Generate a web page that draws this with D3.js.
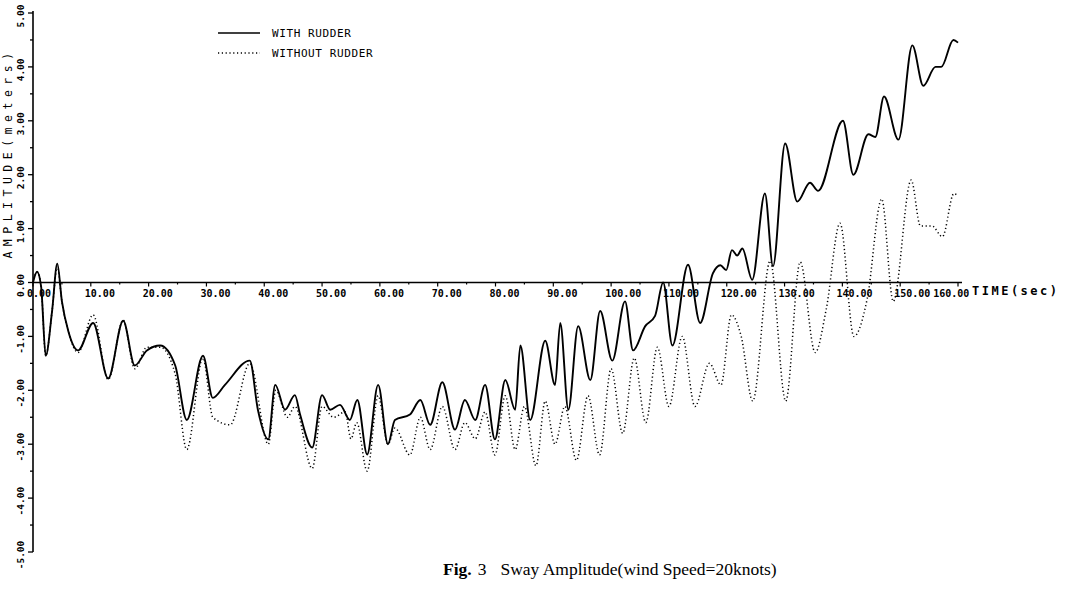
<!DOCTYPE html>
<html>
<head>
<meta charset="UTF-8">
<script src="https://d3js.org/d3.v7.min.js"></script>
<style>
  body { margin: 0; background: #fff; }
  svg { display: block; }
</style>
</head>
<body>
<div id="chart"></div>
<script>
// tick values
var xTicks = d3.range(0, 161, 10);
var yTicks = d3.range(-5, 6, 1);

// WITH RUDDER (solid)
var withTime = [0, 0.7, 1.4, 2.2, 3.3, 4.2, 5.0, 6.1, 7.8, 10.4, 13.0, 15.6, 17.6, 19.7, 22.0, 24.6, 26.6, 29.4, 31.1, 33.2,
  37.5, 38.9, 40.7, 41.9, 43.6, 45.3, 46.2, 48.3, 50.0, 51.4, 53.1, 54.8, 56.1, 57.8, 59.7, 61.4, 62.6, 65.2, 67.0, 68.7,
  70.8, 73.0, 74.7, 76.5, 78.2, 79.9, 81.7, 83.4, 84.3, 86.0, 88.6, 90.3, 91.2, 92.6, 94.3, 96.4, 98.1, 100.2, 102.4, 103.8,
  105.9, 107.6, 109.0, 110.6, 113.3, 115.4, 117.6, 118.9, 119.9, 120.9, 121.8, 122.7, 124.4, 126.6, 128.0, 130.1, 132.2, 134.4, 135.8, 140.1,
  141.9, 144.5, 145.7, 147.2, 149.7, 152.1, 154.0, 156.1, 157.1, 159.2, 160];
var withAmp = [0, 0.2, -0.07, -1.36, -0.53, 0.35, -0.35, -0.9, -1.26, -0.75, -1.78, -0.71, -1.54, -1.26, -1.17, -1.54, -2.55, -1.36, -2.14, -1.9,
  -1.45, -2.36, -2.91, -1.9, -2.36, -2.09, -2.45, -3.06, -2.09, -2.36, -2.27, -2.55, -2.18, -3.19, -1.9, -3.0, -2.55, -2.45, -2.18, -2.64,
  -1.85, -2.73, -2.18, -2.55, -1.9, -2.91, -1.81, -2.36, -1.17, -2.55, -1.08, -1.9, -0.75, -2.36, -0.81, -1.81, -0.53, -1.45, -0.35, -1.26,
  -0.81, -0.62, 0, -1.17, 0.33, -0.75, 0.17, 0.32, 0.23, 0.6, 0.5, 0.63, 0.05, 1.65, 0.3, 2.58, 1.5, 1.85, 1.7, 3.0,
  2.0, 2.75, 2.7, 3.45, 2.65, 4.4, 3.65, 4.0, 4.0, 4.5, 4.45];

// WITHOUT RUDDER (dotted)
var withoutTime = [0, 0.7, 1.4, 2.2, 3.3, 4.2, 5.0, 6.1, 7.8, 10.4, 13.0, 15.6, 17.6, 19.7, 22.0, 24.6, 26.6, 29.4, 31.1, 34.1,
  37.5, 40.7, 42.0, 44.0, 45.3, 48.3, 50.0, 52.0, 54.0, 55.0, 56.0, 57.8, 59.7, 61.4, 62.6, 65.2, 67.0, 68.7, 70.8, 73.0,
  74.7, 76.5, 78.2, 79.9, 81.7, 83.4, 85.0, 87.0, 88.6, 90.3, 92.0, 94.0, 96.0, 98.0, 100.0, 102.0, 104.0, 106.0, 108.0, 110.0,
  112.3, 114.5, 117.0, 119.0, 120.8, 122.5, 124.5, 127.5, 130.2, 132.7, 135.3, 137.2, 139.6, 142.0, 144.3, 146.8, 148.8, 151.9, 153.5, 155.5,
  157.3, 159.3, 160];
var withoutAmp = [0, 0.2, -0.07, -1.36, -0.53, 0.3, -0.35, -0.9, -1.3, -0.6, -1.8, -0.7, -1.6, -1.2, -1.2, -1.7, -3.1, -1.4, -2.5, -2.64,
  -1.5, -3.0, -2.0, -2.5, -2.3, -3.45, -2.3, -2.5, -2.4, -2.9, -2.6, -3.5, -2.1, -3.0, -2.7, -3.2, -2.5, -3.1, -2.3, -3.1,
  -2.6, -2.9, -2.4, -3.2, -2.1, -3.1, -2.3, -3.4, -2.2, -3.0, -2.3, -3.3, -2.1, -3.2, -1.6, -2.8, -1.4, -2.6, -1.2, -2.3,
  -1.0, -2.3, -1.5, -1.9, -0.6, -1.0, -2.2, 0.4, -2.2, 0.38, -1.3, -0.5, 1.1, -1.0, -0.3, 1.55, -0.35, 1.9, 1.05, 1.05,
  0.85, 1.65, 1.6];

var W = 1073, H = 603;

var svg = d3.select("#chart").append("svg")
  .attr("width", W)
  .attr("height", H);

var x = d3.scaleLinear().domain([0, 160]).range([33, 958]);
var y = d3.scaleLinear().domain([-5, 5]).range([552, 13]);

var axisFont = "'DejaVu Sans Mono', monospace";

// y axis
svg.append("line")
  .attr("x1", x(0)).attr("x2", x(0))
  .attr("y1", y(5) - 2).attr("y2", y(-5))
  .attr("stroke", "#000").attr("stroke-width", 1.6);

svg.selectAll(".ytick")
  .data(d3.range(-5, 5.01, 0.5))
  .enter().append("line")
  .attr("x1", x(0)).attr("x2", function (d) { return Number.isInteger(d) ? x(0) - 5 : x(0) - 3; })
  .attr("y1", function (d) { return y(d); }).attr("y2", function (d) { return y(d); })
  .attr("stroke", "#000").attr("stroke-width", 1.3);

svg.selectAll(".ylabel")
  .data(yTicks)
  .enter().append("text")
  .attr("transform", function (d) { return "translate(24," + (y(d) + 3) + ") rotate(-90)"; })
  .attr("text-anchor", "middle")
  .style("font-family", axisFont)
  .style("font-size", "9.5px")
  .style("font-weight", "bold")
  .text(function (d) { return d.toFixed(2); });

svg.append("text")
  .attr("transform", "translate(12,153) rotate(-90)")
  .attr("text-anchor", "middle")
  .style("font-family", axisFont)
  .style("font-size", "11.5px")
  .style("letter-spacing", "5.5px")
  .text("AMPLITUDE(meters)");

// x axis
svg.append("line")
  .attr("x1", x(0)).attr("x2", x(160) + 4)
  .attr("y1", y(0)).attr("y2", y(0))
  .attr("stroke", "#000").attr("stroke-width", 1.6);

svg.selectAll(".xtick")
  .data(d3.range(0, 160.1, 5))
  .enter().append("line")
  .attr("x1", function (d) { return x(d); }).attr("x2", function (d) { return x(d); })
  .attr("y1", y(0)).attr("y2", function (d) { return d % 10 === 0 ? y(0) + 4 : y(0) + 2; })
  .attr("stroke", "#000").attr("stroke-width", 1.2);

svg.selectAll(".xlabel")
  .data(xTicks)
  .enter().append("text")
  .attr("x", function (d) { return d === 160 ? x(150) + 33 : x(d) - 6; })
  .attr("y", y(0) + 14)
  .style("font-family", axisFont)
  .style("font-size", "10px")
  .style("font-weight", "bold")
  .text(function (d) { return d.toFixed(2); });

svg.append("text")
  .attr("x", 972).attr("y", y(0) + 12)
  .style("font-family", axisFont)
  .style("font-size", "12px")
  .style("font-weight", "bold")
  .style("letter-spacing", "2.5px")
  .text("TIME(sec)");

// curves
var line = d3.line()
  .x(function (d) { return x(d[0]); })
  .y(function (d) { return y(d[1]); })
  .curve(d3.curveMonotoneX);

svg.append("path")
  .datum(d3.zip(withoutTime, withoutAmp))
  .attr("d", line)
  .attr("fill", "none")
  .attr("stroke", "#000")
  .attr("stroke-width", 1.5)
  .attr("stroke-dasharray", "1.2,2.6");

svg.append("path")
  .datum(d3.zip(withTime, withAmp))
  .attr("d", line)
  .attr("fill", "none")
  .attr("stroke", "#000")
  .attr("stroke-width", 1.9);

// legend
var legend = svg.append("g");
legend.append("line")
  .attr("x1", 218).attr("x2", 260).attr("y1", 33).attr("y2", 33)
  .attr("stroke", "#000").attr("stroke-width", 1.6);
legend.append("line")
  .attr("x1", 218).attr("x2", 260).attr("y1", 53).attr("y2", 53)
  .attr("stroke", "#000").attr("stroke-width", 1.4)
  .attr("stroke-dasharray", "1.2,2.6");
legend.append("text")
  .attr("x", 272).attr("y", 37)
  .style("font-family", axisFont).style("font-size", "11px").style("letter-spacing", "0.6px")
  .text("WITH RUDDER");
legend.append("text")
  .attr("x", 272).attr("y", 57)
  .style("font-family", axisFont).style("font-size", "11px").style("letter-spacing", "0.6px")
  .text("WITHOUT RUDDER");

// caption
var cap = svg.append("text")
  .attr("x", 443).attr("y", 575)
  .style("font-family", "'Liberation Serif', 'DejaVu Serif', serif")
  .style("font-size", "17.5px");
cap.append("tspan").style("font-weight", "bold").text("Fig.");
cap.append("tspan").attr("dx", 6).text("3");
cap.append("tspan").attr("dx", 14).text("Sway Amplitude(wind Speed=20knots)");
</script>
</body>
</html>
